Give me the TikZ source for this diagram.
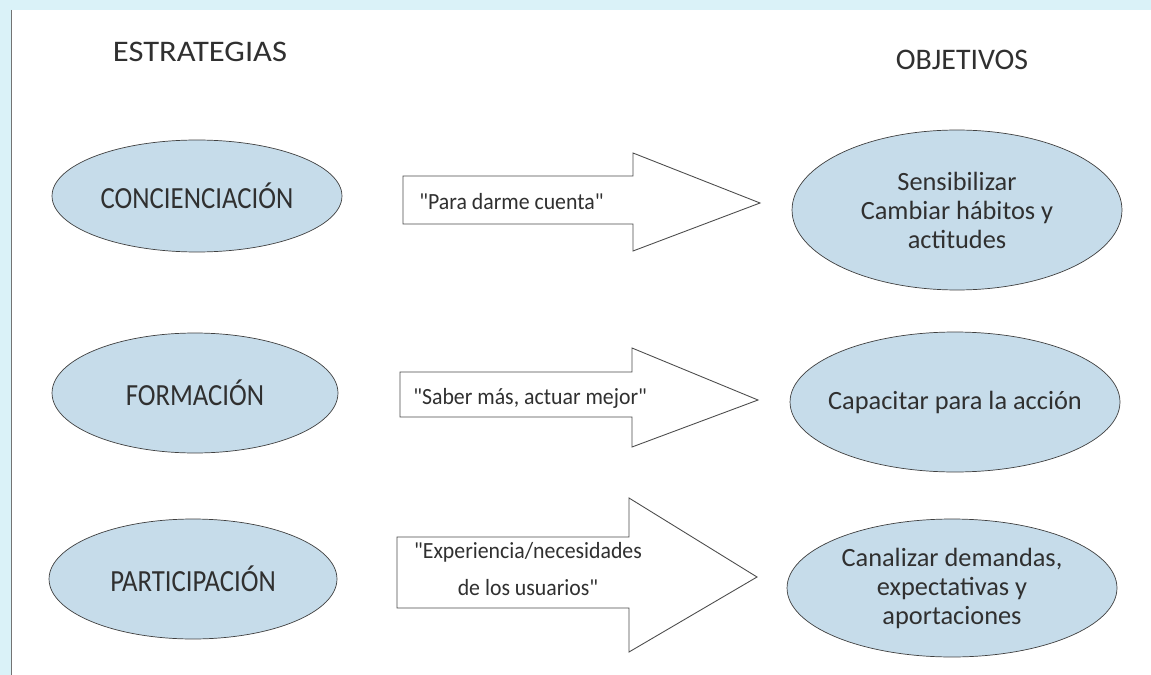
\documentclass[tikz,border=0pt]{standalone}
\usepackage{fontspec}
\setmainfont{Carlito}
\newfontfamily\lemafont{Carlito}[FakeStretch=0.94]
\newfontfamily\estrfont{Carlito}[FakeStretch=0.87]
\newfontfamily\titfont{Carlito}[FakeStretch=1.09]
\usetikzlibrary{shapes.geometric}

\definecolor{marco}{HTML}{DAF2F8}
\definecolor{relleno}{HTML}{C6DCEA}
\definecolor{tinta}{HTML}{303030}

\tikzset{
    estrategia/.style={draw=black!75, fill=relleno, ellipse, inner sep=0pt, text=tinta, font=\estrfont\fontsize{17.5}{20}\selectfont},
    objetivo/.style={draw=black!75, fill=relleno, ellipse, inner sep=0pt, text=tinta, align=center, font=\fontsize{15}{16.5}\selectfont},
    flecha/.style={draw=black!70, fill=white, line width=0.5pt},
    lema/.style={text=tinta, inner sep=0pt, font=\lemafont\fontsize{13.2}{21}\selectfont},
    titulo/.style={text=tinta, inner sep=0pt}
}

\begin{document}
\begin{tikzpicture}[x=0.02cm, y=-0.02cm]

    \useasboundingbox (0,0) rectangle (1151,675);
    \fill[marco] (0,0) rectangle (1151,675);
    \fill[white] (12,10) rectangle (1151,675);
    \draw[black!55, line width=0.6pt] (11.5,10) -- (11.5,675);

    \node[titulo, font=\titfont\fontsize{17}{20}\selectfont] (estrategias) at (200,52) {ESTRATEGIAS};
    \node[titulo, font=\fontsize{17}{20}\selectfont] (objetivos) at (962,60) {OBJETIVOS};

    \node[estrategia, minimum width=5.8cm, minimum height=2.24cm] (concienciacion) at (197,196) {CONCIENCIACIÓN};
    \node[estrategia, minimum width=5.72cm, minimum height=2.4cm] (formacion) at (195,393) {FORMACIÓN};
    \node[estrategia, minimum width=5.76cm, minimum height=2.4cm] (participacion) at (193,579) {PARTICIPACIÓN};

    \begin{scope}[]
    \draw[flecha] (403,176) -- (633,176) -- (633,153) -- (760,203) -- (633,251) -- (633,224) -- (403,224) -- cycle;
    \draw[flecha] (400,372) -- (632,372) -- (632,348) -- (758,400) -- (632,447) -- (632,417) -- (400,417) -- cycle;
    \draw[flecha] (397,537) -- (629,537) -- (629,498) -- (757,577) -- (629,652) -- (629,608) -- (397,608) -- cycle;
    \end{scope}

    \node[lema, anchor=west] (darme) at (419,202) {"Para darme cuenta"};
    \node[lema, anchor=west] (saber) at (413,398) {"Saber más, actuar mejor"};
    \node[lema, align=center] (experiencia) at (528,569) {"Experiencia/necesidades\\de los usuarios"};

    \node[objetivo, minimum width=6.6cm, minimum height=3.2cm] (sensibilizar) at (957,210) {Sensibilizar\\Cambiar hábitos y\\actitudes};
    \node[objetivo, minimum width=6.6cm, minimum height=2.8cm, inner xsep=-0.22cm] (capacitar) at (955,402) {Capacitar para la acción};
    \node[objetivo, minimum width=6.6cm, minimum height=2.76cm] (canalizar) at (952,588) {Canalizar demandas,\\expectativas y\\aportaciones};

\end{tikzpicture}
\end{document}
